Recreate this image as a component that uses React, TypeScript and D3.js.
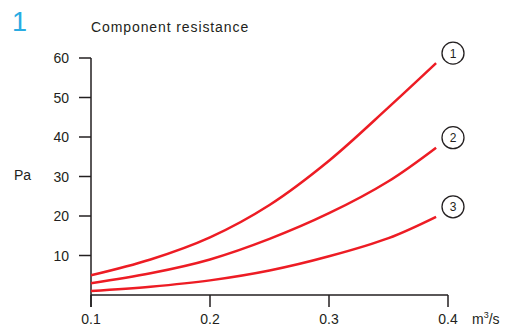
import React from "react";
import * as d3 from "d3";

const flows = [0.1, 0.15, 0.2, 0.25, 0.3, 0.35, 0.39];
const curve1 = [5, 9.0, 14.6, 22.8, 34, 47.5, 58.7];
const curve2 = [3, 5.5, 9.0, 14.2, 20.7, 28.8, 37.3];
const curve3 = [1, 2.1, 3.7, 6.2, 9.8, 14.4, 19.8];
const seriesLabels = ["1", "2", "3"];
const xTicks = [0.1, 0.2, 0.3, 0.4];
const yTicks = [10, 20, 30, 40, 50, 60];

export default function App() {
  const W = 508, H = 332;
  const x = d3.scaleLinear().domain([0.1, 0.4]).range([91, 448]);
  const y = d3.scaleLinear().domain([0, 60]).range([295, 58]);
  const line = d3
    .line<[number, number]>()
    .x((d) => x(d[0]))
    .y((d) => y(d[1]))
    .curve(d3.curveCatmullRom.alpha(0.5));
  const series = [curve1, curve2, curve3];
  const axisColor = "#231f20";
  const font = "Liberation Sans, Arial, sans-serif";
  return (
    <svg
      width={W}
      height={H}
      style={{ position: "absolute", left: 0, top: 0 }}
      fontFamily={font}
    >
      <rect width={W} height={H} fill="#fff" />
      <text x={12} y={31} fontSize={27} fill="#29abe2">1</text>
      <text x={91} y={32} fontSize={14} fill={axisColor} letterSpacing={0.9}>
        Component resistance
      </text>
      <text x={14} y={180} fontSize={14} fill={axisColor}>Pa</text>
      <line x1={x(0.1)} x2={x(0.1)} y1={y(60)} y2={307} stroke={axisColor} strokeWidth={1.5} />
      <line x1={x(0.1)} x2={x(0.4)} y1={y(0)} y2={y(0)} stroke={axisColor} strokeWidth={1.5} />
      {yTicks.map((t) => (
        <g key={t}>
          <line x1={79} x2={x(0.1)} y1={y(t)} y2={y(t)} stroke={axisColor} strokeWidth={1.5} />
          <text x={69} y={y(t) + 5} fontSize={14} textAnchor="end" fill={axisColor}>
            {t}
          </text>
        </g>
      ))}
      {xTicks.map((t) => (
        <g key={t}>
          <line x1={x(t)} x2={x(t)} y1={y(0)} y2={307} stroke={axisColor} strokeWidth={1.5} />
          <text x={x(t)} y={324} fontSize={14} textAnchor="middle" fill={axisColor}>
            {t.toFixed(1)}
          </text>
        </g>
      ))}
      <text x={472} y={324} fontSize={14} fill={axisColor}>
        m<tspan dy={-6} fontSize={9}>3</tspan>
        <tspan dy={6}>/s</tspan>
      </text>
      {series.map((vals, i) => {
        const pts = flows.map((f, j) => [f, vals[j]] as [number, number]);
        const last = pts[pts.length - 1];
        const cy = y(last[1]) - 10;
        return (
          <g key={i}>
            <path d={line(pts) || ""} fill="none" stroke="#ed1c24" strokeWidth={2.5} />
            <circle cx={453} cy={cy} r={11} fill="#fff" stroke={axisColor} strokeWidth={1.3} />
            <text x={453} y={cy + 4.5} fontSize={12} textAnchor="middle" fill={axisColor}>
              {seriesLabels[i]}
            </text>
          </g>
        );
      })}
    </svg>
  );
}
